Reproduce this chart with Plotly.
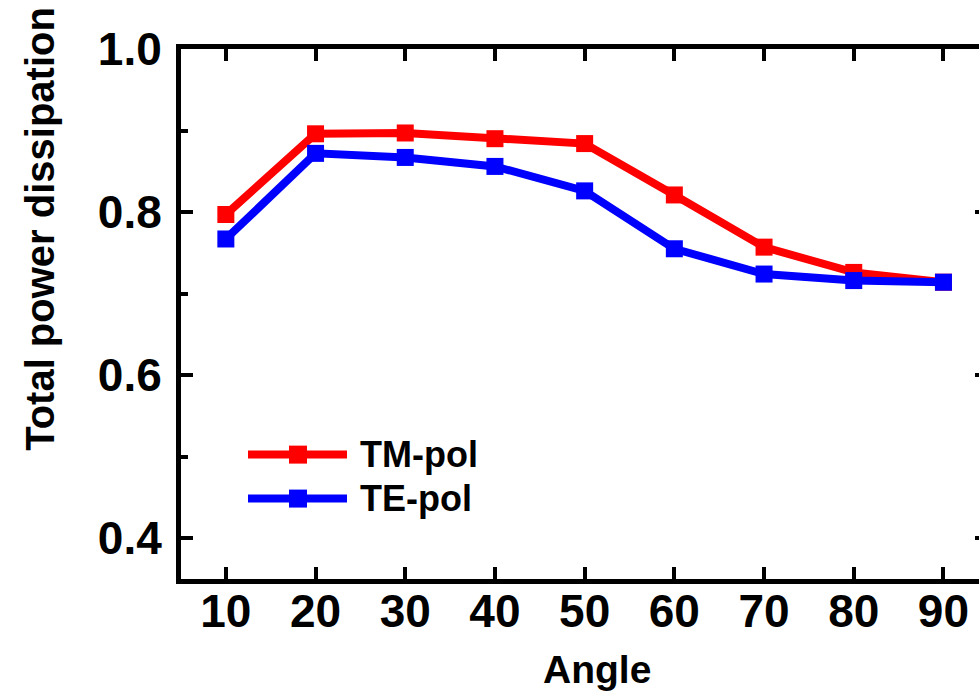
import plotly.graph_objects as go

angles = [10, 20, 30, 40, 50, 60, 70, 80, 90]
tm_pol = [0.797, 0.896, 0.897, 0.890, 0.884, 0.821, 0.757, 0.726, 0.714]
te_pol = [0.767, 0.872, 0.867, 0.856, 0.826, 0.755, 0.724, 0.716, 0.714]
series_names = ["TM-pol", "TE-pol"]
series_colors = ["#FF0000", "#0000FF"]
x_ticks = [10, 20, 30, 40, 50, 60, 70, 80, 90]
y_ticks = [0.4, 0.6, 0.8, 1.0]

W, H = 979, 695
L, R, T, B = 181, 0, 49, 115.5
pw = W - L - R
ph = H - T - B

def px(x):
    return (x - L) / pw

def py(y):
    return (H - B - y) / ph

FONT = "Liberation Sans, Arial, Helvetica, sans-serif"

fig = go.Figure()
for name, vals, col in zip(series_names, [tm_pol, te_pol], series_colors):
    fig.add_trace(go.Scatter(
        x=angles, y=vals, mode="lines+markers", name=name,
        line=dict(color=col, width=8),
        marker=dict(symbol="square", size=17, color=col),
        showlegend=False,
    ))

# secondary axis to show clipped right-side ticks
fig.add_trace(go.Scatter(x=[None], y=[None], yaxis="y2", showlegend=False))

# manual legend (long line samples)
leg_y = [455, 499]
for name, col, ly in zip(series_names, series_colors, leg_y):
    fig.add_shape(type="line", xref="paper", yref="paper",
                  x0=px(248), x1=px(347), y0=py(ly), y1=py(ly),
                  line=dict(color=col, width=8))
    fig.add_shape(type="rect", xref="paper", yref="paper",
                  x0=px(298 - 9), x1=px(298 + 9), y0=py(ly + 9), y1=py(ly - 9),
                  line=dict(width=0), fillcolor=col)
    fig.add_annotation(text=name, xref="paper", yref="paper",
                       x=px(358), y=py(ly), xanchor="left", yanchor="middle",
                       showarrow=False,
                       font=dict(family=FONT, size=36, color="black", weight="bold"))

# axis titles
fig.add_annotation(text="Angle", xref="paper", yref="paper",
                   x=px(597), y=py(670), xanchor="center", yanchor="middle",
                   showarrow=False,
                   font=dict(family=FONT, size=39, color="black", weight="bold"))
fig.add_annotation(text="Total power dissipation", xref="paper", yref="paper",
                   x=px(40), y=py(229), xanchor="center", yanchor="middle",
                   textangle=-90, showarrow=False,
                   font=dict(family=FONT, size=40, color="black", weight="bold"))

fig.update_layout(
    width=W, height=H,
    margin=dict(l=L, r=R, t=T, b=B, pad=0),
    paper_bgcolor="white", plot_bgcolor="white",
    showlegend=False,
    xaxis=dict(
        range=[5, 5 + pw / 8.97], tickvals=x_ticks, ticktext=[str(v) for v in x_ticks],
        showline=True, linewidth=5, linecolor="black", mirror="ticks",
        ticks="inside", ticklen=12, tickwidth=4, tickcolor="black",
        showgrid=False, zeroline=False, ticklabelstandoff=-12,
        tickfont=dict(family=FONT, size=46, color="black", weight="bold"),
    ),
    yaxis=dict(
        range=[0.35, 1.0], tickvals=y_ticks, ticktext=["%.1f" % v for v in y_ticks],
        showline=True, linewidth=5, linecolor="black", mirror=False,
        ticks="inside", ticklen=12, tickwidth=4, tickcolor="black",
        minor=dict(ticks="inside", ticklen=7, tickwidth=4, tickcolor="black",
                   tickvals=[0.5, 0.7, 0.9]),
        showgrid=False, zeroline=False, ticklabelstandoff=5,
        tickfont=dict(family=FONT, size=46, color="black", weight="bold"),
    ),
    yaxis2=dict(
        overlaying="y", side="right", matches="y", range=[0.35, 1.0],
        tickvals=y_ticks, showticklabels=False, showline=False,
        ticks="inside", ticklen=4, tickwidth=4, tickcolor="black",
        showgrid=False, zeroline=False,
    ),
)

fig.write_html("out.html", config={"displayModeBar": False},
               post_script="document.body.style.margin='0';document.body.style.overflow='hidden';")
